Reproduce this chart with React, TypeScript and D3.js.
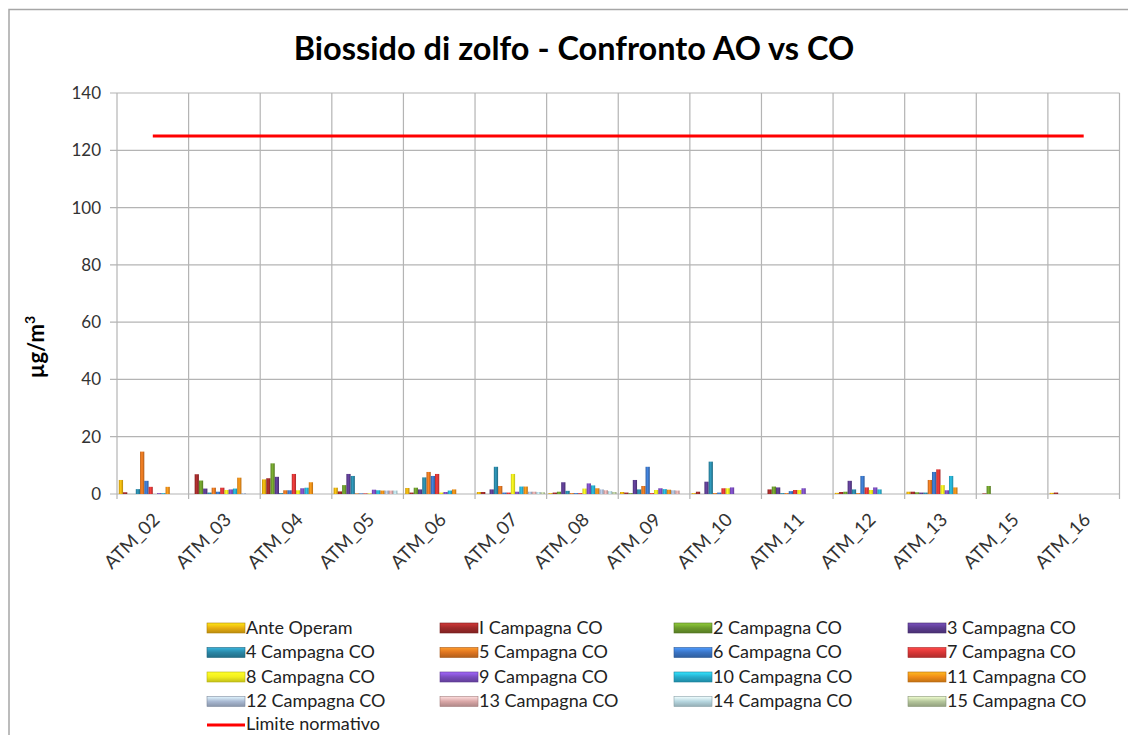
import React from "react";
import * as d3 from "d3";

const categories = ["ATM_02","ATM_03","ATM_04","ATM_05","ATM_06","ATM_07","ATM_08","ATM_09","ATM_10","ATM_11","ATM_12","ATM_13","ATM_15","ATM_16"];

const seriesNames = ["Ante Operam","I Campagna CO","2 Campagna CO","3 Campagna CO","4 Campagna CO","5 Campagna CO","6 Campagna CO","7 Campagna CO","8 Campagna CO","9 Campagna CO","10 Campagna CO","11 Campagna CO","12 Campagna CO","13 Campagna CO","14 Campagna CO","15 Campagna CO"];

const seriesColors = ["#E8AE10","#9E2A2A","#6C9A2C","#5B3C8E","#2A87A6","#DD7420","#3A74C4","#D83636","#F2EE1E","#7A4DBE","#26ACCC","#F08C18","#A9B9D2","#D9A7A7","#B6D6DF","#B5C69C"];

const seriesValues = [
  [4.9, 0, 5.1, 2.2, 2.1, 0.7, 0.3, 0.7, 0.3, 0, 0.4, 0.8, 0, 0.4],
  [0.6, 6.9, 5.5, 0.9, 0.5, 0.7, 0.5, 0.5, 0.8, 1.6, 0.7, 0.8, 0.2, 0.5],
  [0, 4.7, 10.7, 3.1, 2.2, 0, 0.8, 0.3, 0, 2.6, 0.8, 0.6, 2.8, 0],
  [0, 1.9, 6.0, 7.0, 1.6, 1.6, 4.1, 4.9, 4.3, 2.3, 4.6, 0.5, 0, 0],
  [1.7, 0.5, 0.3, 6.3, 5.8, 9.5, 1.1, 1.6, 11.3, 0.3, 1.6, 0.5, 0, 0],
  [14.8, 2.2, 1.3, 0.2, 7.7, 2.8, 0.3, 2.8, 0.3, 0.3, 0.3, 4.9, 0, 0],
  [4.6, 0.8, 1.3, 0.2, 6.3, 0.5, 0.3, 9.5, 0.5, 1.0, 6.3, 7.7, 0, 0],
  [2.5, 2.2, 7.0, 0.2, 7.0, 0.5, 0.3, 0.3, 2.0, 1.4, 2.3, 8.6, 0, 0],
  [0, 1.4, 1.3, 0.2, 0.5, 7.0, 1.9, 1.4, 2.0, 1.4, 1.4, 3.1, 0, 0],
  [0.3, 1.6, 2.0, 1.5, 0.7, 0.8, 3.7, 2.0, 2.3, 2.0, 2.3, 1.3, 0, 0],
  [0.3, 1.9, 2.2, 1.3, 1.2, 2.6, 3.0, 1.7, 0, 0, 1.6, 6.3, 0, 0],
  [2.5, 5.7, 4.1, 1.2, 1.6, 2.6, 2.0, 1.5, 0, 0, 0, 2.3, 0, 0],
  [0, 0.3, 0, 1.2, 0, 0.8, 1.6, 1.3, 0, 0, 0, 0, 0, 0],
  [0, 0, 0, 1.2, 0, 0.8, 1.3, 1.2, 0, 0, 0, 0, 0, 0],
  [0, 0, 0, 1.2, 0, 0.7, 1.0, 0, 0, 0, 0, 0, 0, 0],
  [0, 0, 0, 0, 0, 0.6, 0.7, 0, 0, 0, 0, 0, 0, 0],
];

const limitName = "Limite normativo";
const limitValues = [125,125,125,125,125,125,125,125,125,125,125,125,125,125];
const yTicks = [0, 20, 40, 60, 80, 100, 120, 140];

const title = "Biossido di zolfo - Confronto AO vs CO";
const yLabelMain = "µg/m";
const yLabelSup = "3";

const FONT = "Lato, 'Open Sans', sans-serif";

export default function App() {
  const W = 1128, H = 735;
  const left = 117, right = 1119.5, top = 93, bottom = 494;

  const x0 = d3.scaleBand<string>().domain(categories).range([left, right]).paddingInner(0).paddingOuter(0);
  const x1 = d3.scaleBand<number>().domain(d3.range(seriesNames.length)).range([0, x0.bandwidth()]).paddingInner(0).paddingOuter(0.42);
  const y = d3.scaleLinear().domain([0, 140]).range([bottom, top]);

  const limitLine = d3.line<number>()
    .x((_, i) => (x0(categories[i]) as number) + x0.bandwidth() / 2)
    .y((v) => y(v));

  const legendCols = [207, 440, 674, 908];
  const legendRows = [628, 652.5, 677, 701.5, 725];

  return (
    <svg width={W} height={H} style={{ position: "absolute", left: 0, top: 0, display: "block", background: "#fff" }} fontFamily={FONT}>
      <defs>
        {seriesColors.map((c, i) => {
          const base = d3.color(c)!;
          return (
            <linearGradient key={"g" + i} id={"bar" + i} x1="0" x2="1" y1="0" y2="0">
              <stop offset="0" stopColor={base.darker(0.5).formatHex()} />
              <stop offset="0.45" stopColor={base.brighter(0.4).formatHex()} />
              <stop offset="1" stopColor={base.darker(0.7).formatHex()} />
            </linearGradient>
          );
        })}
        {seriesColors.map((c, i) => {
          const base = d3.color(c)!;
          return (
            <linearGradient key={"l" + i} id={"leg" + i} x1="0" x2="0" y1="0" y2="1">
              <stop offset="0" stopColor={base.brighter(0.8).formatHex()} />
              <stop offset="0.5" stopColor={base.formatHex()} />
              <stop offset="1" stopColor={base.darker(0.6).formatHex()} />
            </linearGradient>
          );
        })}
      </defs>

      {/* outer frame */}
      <rect x={9} y={9.5} width={1140} height={800} fill="none" stroke="#A6A6A6" strokeWidth={1.5} />

      {/* title */}
      <text x={574} y={60} textAnchor="middle" fontSize={32.5} fontWeight="bold" fill="#000">{title}</text>

      {/* horizontal gridlines */}
      {yTicks.map((t) => (
        <g key={"y" + t}>
          <line x1={left - 7} x2={right} y1={y(t)} y2={y(t)} stroke="#B4B4B4" strokeWidth={1.2} />
          <text x={101} y={y(t)} dy="0.35em" textAnchor="end" fontSize={17} fill="#333">{t}</text>
        </g>
      ))}

      {/* vertical gridlines */}
      {categories.map((c) => (
        <line key={"v" + c} x1={x0(c)} x2={x0(c)} y1={top} y2={bottom + 5} stroke="#B4B4B4" strokeWidth={1.2} />
      ))}
      <line x1={right} x2={right} y1={top} y2={bottom + 5} stroke="#B4B4B4" strokeWidth={1.2} />

      {/* bars */}
      {seriesValues.map((vals, s) => (
        <g key={"s" + s}>
          {vals.map((v, i) => {
            if (v <= 0) return null;
            const bx = (x0(categories[i]) as number) + (x1(s) as number);
            return (
              <rect key={i} x={bx} y={y(v)} width={x1.bandwidth()} height={y(0) - y(v)} fill={`url(#bar${s})`} />
            );
          })}
        </g>
      ))}

      {/* limit line */}
      <path d={limitLine(limitValues) || ""} fill="none" stroke="#FF0000" strokeWidth={3} />

      {/* x labels */}
      {categories.map((c) => {
        const cx = (x0(c) as number) + x0.bandwidth() / 2;
        return (
          <text key={"xl" + c} transform={`translate(${cx + 8},${bottom + 27}) rotate(-45)`} textAnchor="end" fontSize={18.5} fill="#333">{c}</text>
        );
      })}

      {/* y label */}
      <text transform={`translate(44,${347}) rotate(-90)`} textAnchor="middle" fontSize={22} fontWeight="bold" fill="#000">
        {yLabelMain}
        <tspan fontSize={14} dy={-9}>{yLabelSup}</tspan>
      </text>

      {/* legend */}
      {seriesNames.map((n, i) => {
        const col = i % 4, row = Math.floor(i / 4);
        const lx = legendCols[col], ly = legendRows[row];
        return (
          <g key={"lg" + i}>
            <rect x={lx} y={ly - 5} width={38} height={10} fill={`url(#leg${i})`} stroke={d3.color(seriesColors[i])!.darker(0.8).formatHex()} strokeWidth={0.6} />
            <text x={lx + 39} y={ly} dy="0.33em" fontSize={18} fill="#222">{n}</text>
          </g>
        );
      })}
      <line x1={legendCols[0]} x2={legendCols[0] + 38} y1={legendRows[4]} y2={legendRows[4]} stroke="#FF0000" strokeWidth={3} />
      <text x={legendCols[0] + 39} y={legendRows[4]} dy="0.3em" fontSize={18} fill="#222">{limitName}</text>
    </svg>
  );
}
